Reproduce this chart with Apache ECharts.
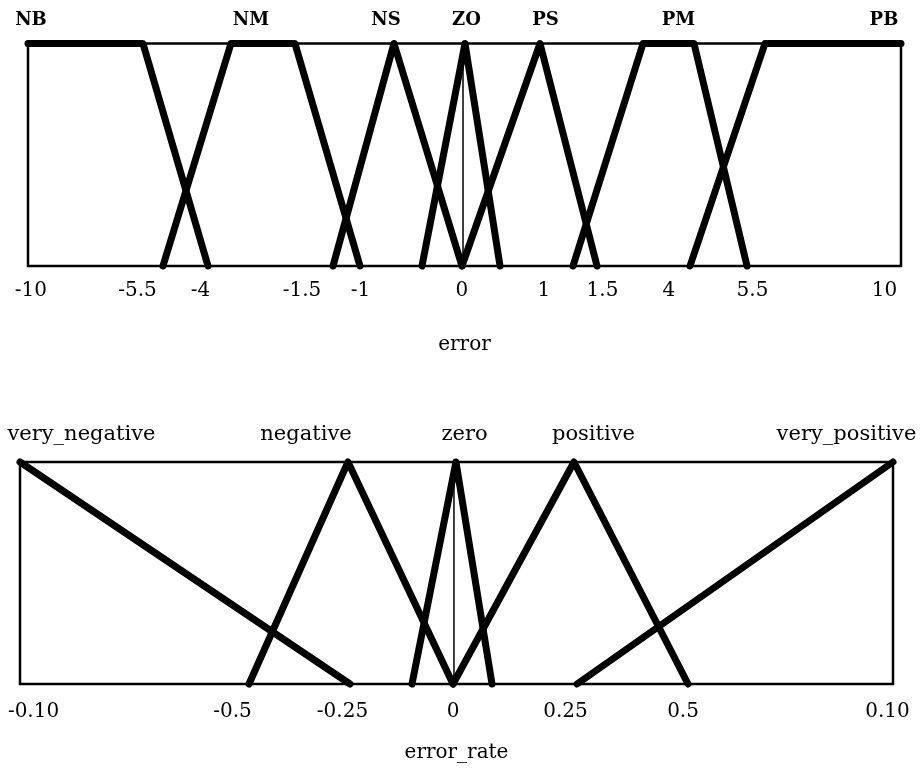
<!DOCTYPE html>
<html>
<head>
<meta charset="utf-8">
<script src="https://cdn.jsdelivr.net/npm/echarts@6/dist/echarts.min.js"></script>
<style>
  html, body { margin: 0; padding: 0; background: #fff; }
  #chart { width: 924px; height: 774px; }
</style>
</head>
<body>
<div id="chart"></div>
<script>
// Horizontal coordinate: position along each universe bar, 0 = left edge, 100 = right edge.
// Vertical coordinate: degree of membership, 0..1.

// ---- error: membership functions ----
const errNB = [[0, 1], [13.17, 1], [20.62, 0]];
const errNM = [[15.46, 0], [23.25, 1], [30.58, 1], [38.03, 0]];
const errNS = [[34.94, 0], [41.92, 1], [49.71, 0]];
const errZO = [[45.13, 0], [50.06, 1], [54.07, 0]];
const errZOstem = [[49.83, 1], [49.83, 0]];
const errPS = [[49.71, 0], [58.65, 1], [65.18, 0]];
const errPM = [[62.43, 0], [70.45, 1], [76.29, 1], [82.36, 0]];
const errPB = [[75.83, 0], [84.42, 1], [100, 1]];

// error: tick labels and where they sit along the bar
const errTickText = ['-10', '-5.5', '-4', '-1.5', '-1', '0', '1', '1.5', '4', '5.5', '10'];
const errTickAt = [0.34, 12.54, 19.76, 31.39, 38.09, 49.71, 59.1, 65.81, 73.42, 82.99, 98.11];

// error: fuzzy set names
const errSetText = ['NB', 'NM', 'NS', 'ZO', 'PS', 'PM', 'PB'];
const errSetAt = [0.34, 25.54, 41.0, 50.23, 59.28, 74.51, 98.05];

// ---- error_rate: membership functions ----
const rateVeryNeg = [[0, 1], [37.8, 0]];
const rateNeg = [[26.23, 0], [37.57, 1], [49.6, 0]];
const rateZero = [[44.9, 0], [49.94, 1], [54.07, 0]];
const rateZeroStem = [[49.71, 1], [49.71, 0]];
const ratePos = [[49.6, 0], [63.46, 1], [76.52, 0]];
const rateVeryPos = [[63.8, 0], [100, 1]];

// error_rate: tick labels
const rateTickText = ['-0.10', '-0.5', '-0.25', '0', '0.25', '0.5', '0.10'];
const rateTickAt = [1.55, 24.34, 36.94, 49.6, 62.49, 75.95, 99.37];

// error_rate: fuzzy set names
const rateSetText = ['very_negative', 'negative', 'zero', 'positive', 'very_positive'];
const rateSetAt = [7.04, 32.76, 50.92, 65.69, 94.67];

const FONT = 'DejaVu Serif';
const INK = '#000';
const THICK = 7;

function textFor(positions, texts) {
  return function (v) {
    let best = 0;
    for (let i = 1; i < positions.length; i++) {
      if (Math.abs(positions[i] - v) < Math.abs(positions[best] - v)) best = i;
    }
    return texts[best];
  };
}

function positionAxis(gridIndex, position, at, texts, label, extra) {
  return Object.assign({
    type: 'value',
    gridIndex: gridIndex,
    position: position,
    min: 0,
    max: 100,
    axisLine: { show: false },
    axisTick: { show: false },
    splitLine: { show: false },
    axisLabel: Object.assign({
      customValues: at,
      formatter: textFor(at, texts),
      color: INK,
      fontFamily: FONT
    }, label)
  }, extra || {});
}

function membership(name, data, xAxisIndex, yAxisIndex, width) {
  return {
    name: name,
    type: 'line',
    xAxisIndex: xAxisIndex,
    yAxisIndex: yAxisIndex,
    data: data,
    symbol: 'none',
    clip: false,
    silent: true,
    lineStyle: { color: INK, width: width, cap: 'round', join: 'round' },
    z: 3
  };
}

const chart = echarts.init(document.getElementById('chart'), null, { renderer: 'canvas' });

chart.setOption({
  animation: false,
  backgroundColor: '#fff',
  grid: [
    { left: 28, right: 23, top: 43.5, height: 222.5, show: true, borderColor: INK, borderWidth: 2.5,
      outerBoundsMode: 'none', containLabel: false },
    { left: 20, right: 31, top: 462, height: 222, show: true, borderColor: INK, borderWidth: 2.5,
      outerBoundsMode: 'none', containLabel: false }
  ],
  xAxis: [
    positionAxis(0, 'bottom', errTickAt, errTickText, { fontSize: 20, margin: 15 },
      { name: 'error', nameLocation: 'middle', nameGap: 69,
        nameTextStyle: { color: INK, fontFamily: FONT, fontSize: 20 } }),
    positionAxis(0, 'top', errSetAt, errSetText, { fontSize: 18, fontWeight: 'bold', margin: 14 }),
    positionAxis(1, 'bottom', rateTickAt, rateTickText, { fontSize: 20, margin: 18 },
      { name: 'error_rate', nameLocation: 'middle', nameGap: 59,
        nameTextStyle: { color: INK, fontFamily: FONT, fontSize: 20 } }),
    positionAxis(1, 'top', rateSetAt, rateSetText, { fontSize: 21, margin: 17 })
  ],
  yAxis: [
    { type: 'value', gridIndex: 0, min: 0, max: 1, show: false },
    { type: 'value', gridIndex: 1, min: 0, max: 1, show: false }
  ],
  series: [
    membership('NB', errNB, 0, 0, THICK),
    membership('NM', errNM, 0, 0, THICK),
    membership('NS', errNS, 0, 0, THICK),
    membership('ZO', errZO, 0, 0, THICK),
    membership('ZO stem', errZOstem, 0, 0, 1.5),
    membership('PS', errPS, 0, 0, THICK),
    membership('PM', errPM, 0, 0, THICK),
    membership('PB', errPB, 0, 0, THICK),
    membership('very_negative', rateVeryNeg, 2, 1, THICK),
    membership('negative', rateNeg, 2, 1, THICK),
    membership('zero', rateZero, 2, 1, THICK),
    membership('zero stem', rateZeroStem, 2, 1, 1.5),
    membership('positive', ratePos, 2, 1, THICK),
    membership('very_positive', rateVeryPos, 2, 1, THICK)
  ]
});
</script>
</body>
</html>
